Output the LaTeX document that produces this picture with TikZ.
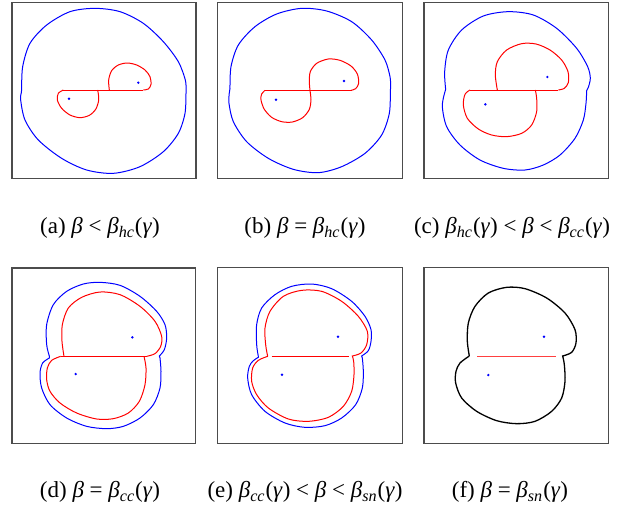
\documentclass[tikz,border=0pt]{standalone}
\usepackage{fontspec}
\setmainfont{Liberation Serif}
\newcommand{\bt}{\textit{β}}
\newcommand{\gm}{\textit{γ}}
\newcommand{\bsub}[1]{\textit{β}\textsubscript{\textit{#1}}(\gm)}
\begin{document}
\begin{tikzpicture}[x=0.16667pt, y=-0.16667pt,
  panel/.style={draw=black!70, line width=0.6pt},
  outer/.style={blue, line width=0.5pt},
  inner/.style={red, line width=0.5pt},
  front/.style={black, line width=0.65pt},
  ctr/.style={fill=blue},
  caplabel/.style={font=\fontsize{11.5}{13}\selectfont, inner sep=0pt}]
\useasboundingbox (0,0) rectangle (1866,1524);
% (a)
\begin{scope}
\draw[panel] (36,8) rectangle (588,535);
\draw[outer] plot[smooth] coordinates {(65,268) (68,200) (90,130) (140,75) (210,35) (285,25) (360,35) (430,70) (490,125) (535,185) (556,240) (558,268)}
  -- plot[smooth] coordinates {(558,278) (555,340) (535,400) (490,455) (420,500) (340,520) (260,510) (185,475) (115,420) (75,360) (62,300) (64,278)} -- cycle;
\draw[inner] plot[smooth] coordinates {(190,270) (175,280) (172,300) (185,325) (210,345) (240,353) (268,346) (287,328) (296,302) (295,282) (293,270)};
\draw[inner] (190,270) -- (430,270);
\draw[inner] plot[smooth] coordinates {(328,270) (326,240) (335,212) (355,195) (382,189) (410,195) (435,210) (450,230) (453,253) (445,267) (430,270)};
\fill[ctr] (207,296) circle (4) (415,248) circle (4);
\node[caplabel] (capa) at (300,684) {(a) \bt{} < \bsub{hc}};
\end{scope}
% (b)
\begin{scope}[shift={(615,0)}]
\draw[panel] (38,8) rectangle (592,536);
\draw[outer] plot[smooth] coordinates {(75,265) (78,200) (100,135) (150,80) (215,42) (290,25) (365,33) (440,65) (500,120) (540,180) (555,230) (557,260)}
  -- plot[smooth] coordinates {(556,275) (553,340) (530,405) (480,460) (410,500) (340,518) (265,508) (190,475) (125,425) (85,365) (72,310) (73,278)} -- cycle;
\draw[inner] (180,271) -- (440,271);
\draw[inner] plot[smooth] coordinates {(180,271) (170,282) (168,300) (178,328) (200,352) (230,365) (262,366) (293,353) (313,328) (318,298) (315,271) (313,245) (316,215) (335,190) (370,177) (405,181) (438,198) (457,222) (461,250) (452,266) (438,271)};
\fill[ctr] (213,299) circle (4) (417,243) circle (4);
\node[caplabel] (capb) at (300,684) {(b) \bt{} = \bsub{hc}};
\end{scope}
% (c)
\begin{scope}[shift={(1230,0)}]
\draw[panel] (42,8) rectangle (596,535);
\draw[outer] plot[smooth] coordinates {(107,268) (104,215) (115,150) (155,90) (220,48) (295,35) (370,45) (440,85) (500,145) (533,200) (541,235) (535,262)}
  -- plot[smooth] coordinates {(530,272) (528,310) (520,360) (495,415) (450,465) (400,495) (345,510) (280,505) (210,480) (150,435) (110,380) (97,320) (103,282)} -- cycle;
\draw[inner] (180,270) -- (445,270);
\draw[inner] plot[smooth] coordinates {(262,270) (256,225) (262,185) (290,150) (335,131) (378,132) (420,150) (455,180) (474,215) (475,248) (463,265) (445,270)};
\draw[inner] plot[smooth] coordinates {(180,270) (165,283) (160,315) (172,355) (205,387) (245,405) (290,410) (335,400) (365,375) (380,335) (380,295) (376,270)};
\fill[ctr] (412,231) circle (4) (226,313) circle (4);
\node[caplabel] (capc) at (306,684) {(c) \bsub{hc} < \bt{} < \bsub{cc}};
\end{scope}
% (d)
\begin{scope}[shift={(0,774)}]
\draw[panel] (36,30) rectangle (587,556);
\draw[outer] plot[smooth] coordinates {(148,294) (140,260) (140,200) (160,140) (200,100) (250,78) (300,73) (360,82) (420,115) (470,160) (495,200) (500,240) (493,275) (478,294)}
  -- plot[smooth] coordinates {(480,300) (483,340) (480,390) (460,440) (420,480) (370,505) (320,512) (260,505) (200,480) (150,440) (125,390) (120,345) (128,315) (148,300)} -- cycle;
\draw[inner] plot[smooth] coordinates {(192,295) (186,250) (187,200) (205,150) (245,118) (300,102) (360,110) (420,145) (465,190) (485,235) (482,265) (465,287) (440,295)};
\draw[inner] (182,295) -- (440,295);
\draw[inner] plot[smooth] coordinates {(182,295) (155,307) (142,330) (140,365) (150,400) (180,435) (230,465) (290,483) (340,482) (385,465) (418,430) (435,380) (438,330) (432,295)};
\fill[ctr] (397,238) circle (4) (227,348) circle (4);
\node[caplabel] (capd) at (300,702) {(d) \bt{} = \bsub{cc}};
\end{scope}
% (e)
\begin{scope}[shift={(615,774)}]
\draw[panel] (38,28) rectangle (592,556);
\draw[outer] plot[smooth] coordinates {(160,295) (155,260) (155,200) (170,150) (210,110) (260,85) (320,78) (380,92) (440,130) (480,175) (498,215) (498,250) (490,278) (470,294)}
  -- plot[smooth] coordinates {(472,300) (475,340) (472,390) (452,440) (410,480) (360,503) (300,508) (240,495) (180,460) (140,410) (128,360) (133,325) (145,308) (160,298)} -- cycle;
\draw[inner] plot[smooth] coordinates {(188,295) (182,260) (180,210) (195,160) (235,115) (290,97) (350,100) (410,130) (460,175) (487,220) (485,260) (468,285) (442,294)}
  -- plot[smooth] coordinates {(442,294) (446,310) (447,350) (440,400) (415,445) (370,478) (310,490) (250,483) (190,450) (155,410) (140,370) (143,330) (160,307) (188,295)};
\draw[inner] (200,295) -- (432,295);
\fill[ctr] (399,236) circle (4) (231,350) circle (4);
\node[caplabel] (cape) at (300,702) {(e) \bsub{cc} < \bt{} < \bsub{sn}};
\end{scope}
% (f)
\begin{scope}[shift={(1230,774)}]
\draw[panel] (42,28) rectangle (596,556);
\draw[front] plot[smooth] coordinates {(178,294) (172,250) (175,195) (195,145) (235,105) (290,88) (345,92) (410,120) (465,165) (495,215) (498,255) (485,283) (458,294)}
  -- plot[smooth] coordinates {(458,294) (463,320) (465,370) (455,420) (425,460) (375,490) (320,497) (260,488) (200,460) (155,420) (137,375) (138,340) (150,315) (178,294)};
\draw[red!75, line width=0.75pt] (202,295) -- (437,295);
\fill[ctr] (402,236) circle (4) (235,351) circle (4);
\node[caplabel] (capf) at (300,702) {(f) \bt{} = \bsub{sn}};
\end{scope}
\end{tikzpicture}
\end{document}
